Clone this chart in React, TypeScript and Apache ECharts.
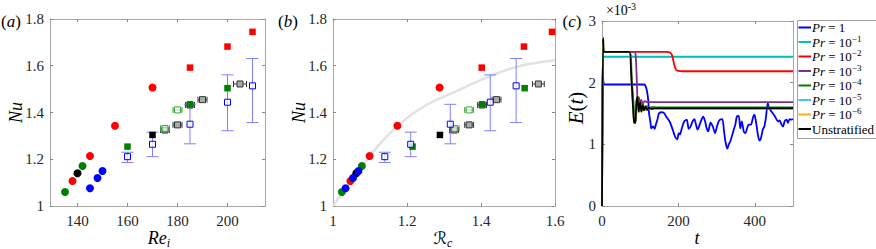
import React, { useEffect, useRef } from 'react';
import * as echarts from 'echarts';

const SERIF = '"Liberation Serif", "DejaVu Serif", serif';

// ---------- Panels (a) and (b): Nu against Re_i and against R_c ----------
// filled circles
const reCircRed = [138, 145, 155, 170];
const rcCircRed = [1.047, 1.099, 1.174, 1.288];
const nuCircRed = [1.107, 1.214, 1.343, 1.507];

const reCircGreen = [135, 142];
const rcCircGreen = [1.024, 1.078];
const nuCircGreen = [1.06, 1.171];

const reCircBlack = [140];
const rcCircBlack = [1.063];
const nuCircBlack = [1.14];

const reCircBlue = [145, 148, 150];
const rcCircBlue = [1.034, 1.054, 1.069];
const nuCircBlue = [1.076, 1.12, 1.15];

// filled squares
const reSqRed = [185, 200, 210];
const rcSqRed = [1.402, 1.516, 1.592];
const nuSqRed = [1.592, 1.682, 1.745];

const reSqGreen = [160, 185, 200];
const rcSqGreen = [1.215, 1.403, 1.518];
const nuSqGreen = [1.254, 1.435, 1.504];

const reSqBlack = [170];
const rcSqBlack = [1.289];
const nuSqBlack = [1.304];

// open blue squares with vertical error bars
const reOpenBlue = [160, 170, 185, 200, 210];
const rcOpenBlue = [1.14, 1.21, 1.317, 1.425, 1.495];
const nuOpenBlue = [1.211, 1.264, 1.35, 1.444, 1.514];
const nuOpenBlueLo = [1.186, 1.211, 1.266, 1.322, 1.357];
const nuOpenBlueHi = [1.23, 1.316, 1.435, 1.561, 1.631];

// open grey squares with horizontal error bars
const reOpenGray = [175, 180, 185, 190, 205];
const rcOpenGray = [1.327, 1.368, 1.403, 1.442, 1.555];
const nuOpenGray = [1.325, 1.347, 1.432, 1.455, 1.522];
const reErrGray = [1.8, 1.8, 1.8, 1.8, 2.6];
const rcErrGray = [0.012, 0.012, 0.012, 0.012, 0.016];

// open green squares with horizontal error bars
const reOpenGreen = [175, 180];
const rcOpenGreen = [1.329, 1.368];
const nuOpenGreen = [1.332, 1.411];
const reErrGreen = [1.8, 1.8];
const rcErrGreen = [0.012, 0.012];

// grey reference curve of panel (b)
const rcCurve = [1, 1.05, 1.1, 1.15, 1.2, 1.25, 1.3, 1.35, 1.4, 1.45, 1.5, 1.55, 1.6];
const nuCurve = [1, 1.11, 1.214, 1.305, 1.376, 1.43, 1.468, 1.503, 1.54, 1.571, 1.597, 1.613, 1.624];

// tick values
const reTicks = [140, 160, 180, 200];
const rcTicks = [1, 1.2, 1.4, 1.6];
const nuTicks = [1, 1.2, 1.4, 1.6, 1.8];
const tTicks = [0, 200, 400];
const eTicks = [0, 1, 2, 3];

// ---------- Panel (c): E(t), in units of 1e-3 ----------
const tPr1 = [0, 3, 6, 110, 116, 121, 123, 127, 129, 134, 138, 141, 145, 149, 155, 162, 168, 177, 185, 191, 197, 201, 204, 209, 215, 222, 227, 232, 237, 242, 246, 250, 254, 261, 265, 270, 274, 278, 284, 290, 296, 299, 304, 309, 315, 319, 323, 328, 332, 336, 340, 345, 349, 353, 358, 362, 366, 371, 375, 379, 384, 390, 395, 399, 403, 408, 412, 416, 421, 425, 429, 434, 437, 444, 452, 461, 465, 470, 474, 478, 483, 487, 491, 496, 500];
const ePr1 = [0, 2.1, 1.97, 1.97, 1.91, 1.72, 1.51, 1.35, 1.26, 1.29, 1.25, 1.32, 1.40, 1.50, 1.52, 1.51, 1.45, 1.37, 1.24, 1.13, 1.08, 1.18, 1.16, 1.26, 1.37, 1.40, 1.25, 1.29, 1.37, 1.41, 1.32, 1.24, 1.29, 1.41, 1.45, 1.37, 1.26, 1.21, 1.35, 1.29, 1.18, 1.24, 1.35, 1.40, 1.41, 1.24, 1.05, 0.93, 1.0, 1.05, 1.13, 1.24, 1.32, 1.45, 1.46, 1.26, 1.37, 1.21, 1.18, 1.24, 1.32, 1.32, 1.43, 1.48, 1.37, 1.16, 1.06, 1.10, 1.24, 1.29, 1.43, 1.67, 1.59, 1.53, 1.46, 1.37, 1.39, 1.32, 1.29, 1.37, 1.40, 1.35, 1.41, 1.40, 1.41];

const tPr1e1 = [0, 3, 500];
const ePr1e1 = [0, 2.42, 2.42];

const tPr1e2 = [0, 3, 170, 178, 183, 187, 190, 194, 200, 210, 500];
const ePr1e2 = [0, 2.5, 2.5, 2.49, 2.45, 2.35, 2.27, 2.21, 2.19, 2.185, 2.185];

const tPr1e3 = [0, 3, 85, 88, 91, 94, 97, 100, 103, 107, 112, 120, 500];
const ePr1e3 = [0, 2.5, 2.5, 2.45, 2.05, 1.62, 1.76, 1.63, 1.72, 1.66, 1.70, 1.685, 1.685];

const tPr1e4 = [0, 3, 5, 72, 78, 82, 85, 88, 91, 94, 97, 100, 104, 108, 112, 117, 122, 130, 140, 500];
const ePr1e4 = [0, 2.7, 2.5, 2.5, 2.02, 1.72, 1.40, 1.36, 1.67, 1.77, 1.53, 1.69, 1.54, 1.64, 1.56, 1.62, 1.58, 1.605, 1.6, 1.6];

const tUnstrat = [0, 3, 5, 72, 76, 80, 84, 87, 90, 93, 96, 100, 103, 107, 110, 114, 118, 123, 129, 138, 500];
const eUnstrat = [0, 2.72, 2.5, 2.5, 2.2, 1.75, 1.36, 1.345, 1.67, 1.775, 1.53, 1.69, 1.53, 1.64, 1.55, 1.615, 1.56, 1.6, 1.575, 1.585, 1.585];

const tPr1e5 = tUnstrat;
const ePr1e5 = eUnstrat;
const tPr1e6 = tUnstrat;
const ePr1e6 = eUnstrat;

const legendNames = ['1', '−1', '−2', '−3', '−4', '−5', '−6', 'Unstratified'];
const lineColors = ['#0000ff', '#00bfbf', '#ff0000', '#7e2f8e', '#008000', '#4dbeee', '#edb120', '#000000'];

const zip = (xs: number[], ys: number[]) => xs.map((x, i) => [x, ys[i]]);

const axisColor = '#a8a8a8';
const tickColor = '#888888';
const labelStyle = { fontFamily: SERIF, fontSize: 15, color: '#262626' };

function mkAxis(kind: 'x' | 'y', gridIndex: number, min: number, max: number, ticks: number[], position: string, showLabel: boolean) {
  return {
    type: 'value',
    gridIndex,
    min,
    max,
    position,
    axisLine: { show: true, onZero: false, lineStyle: { color: axisColor, width: 1 } },
    axisTick: { show: true, inside: true, length: 3, lineStyle: { color: tickColor }, customValues: ticks },
    axisLabel: { show: showLabel, customValues: ticks, margin: kind === 'x' ? 7 : 6, ...labelStyle },
    splitLine: { show: false },
  };
}

function scatter(xs: number[], ys: number[], xi: number, symbol: string, size: number, fill: string, border?: string) {
  return {
    type: 'scatter',
    xAxisIndex: xi,
    yAxisIndex: xi,
    data: zip(xs, ys),
    symbol,
    symbolSize: size,
    z: 3,
    silent: true,
    itemStyle: { color: fill, borderColor: border || fill, borderWidth: border ? 1 : 0, opacity: 1 },
  };
}

function vErr(xs: number[], lo: number[], hi: number[], xi: number, color: string) {
  return {
    type: 'custom',
    xAxisIndex: xi,
    yAxisIndex: xi,
    silent: true,
    z: 2,
    data: xs.map((x, i) => [x, lo[i], hi[i]]),
    encode: { x: 0, y: [1, 2] },
    renderItem: (_p: any, api: any) => {
      const x = api.value(0);
      const a = api.coord([x, api.value(1)]);
      const b = api.coord([x, api.value(2)]);
      const w = 6;
      const st = { stroke: color, lineWidth: 1, fill: 'none' };
      return {
        type: 'group',
        children: [
          { type: 'line', shape: { x1: a[0], y1: a[1], x2: b[0], y2: b[1] }, style: st },
          { type: 'line', shape: { x1: a[0] - w, y1: a[1], x2: a[0] + w, y2: a[1] }, style: st },
          { type: 'line', shape: { x1: b[0] - w, y1: b[1], x2: b[0] + w, y2: b[1] }, style: st },
        ],
      };
    },
  };
}

function hErr(xs: number[], ys: number[], dx: number[], xi: number, color: string) {
  return {
    type: 'custom',
    xAxisIndex: xi,
    yAxisIndex: xi,
    silent: true,
    z: 2,
    data: xs.map((x, i) => [x, ys[i], dx[i]]),
    encode: { x: 0, y: 1 },
    renderItem: (_p: any, api: any) => {
      const x = api.value(0);
      const y = api.value(1);
      const d = api.value(2);
      const a = api.coord([x - d, y]);
      const b = api.coord([x + d, y]);
      const h = 3;
      const st = { stroke: color, lineWidth: 1, fill: 'none' };
      return {
        type: 'group',
        children: [
          { type: 'line', shape: { x1: a[0], y1: a[1], x2: b[0], y2: b[1] }, style: st },
          { type: 'line', shape: { x1: a[0], y1: a[1] - h, x2: a[0], y2: a[1] + h }, style: st },
          { type: 'line', shape: { x1: b[0], y1: b[1] - h, x2: b[0], y2: b[1] + h }, style: st },
        ],
      };
    },
  };
}

function scatterPanel(xi: number, x: any) {
  const green = '#008000';
  const openGreen = '#3aa53a';
  return [
    scatter(x.circGreen, nuCircGreen, xi, 'circle', 8, green),
    scatter(x.circRed, nuCircRed, xi, 'circle', 8, '#ff0000'),
    scatter(x.circBlack, nuCircBlack, xi, 'circle', 8, '#000000'),
    scatter(x.circBlue, nuCircBlue, xi, 'circle', 8, '#0000ff'),
    hErr(x.openGray, nuOpenGray, x.errGray, xi, '#333333'),
    scatter(x.openGray, nuOpenGray, xi, 'rect', 6, '#ababab', '#333333'),
    hErr(x.openGreen, nuOpenGreen, x.errGreen, xi, openGreen),
    scatter(x.openGreen, nuOpenGreen, xi, 'rect', 6, 'rgba(255,255,255,0.6)', openGreen),
    scatter(x.sqRed, nuSqRed, xi, 'rect', 6.5, '#ff0000'),
    scatter(x.sqGreen, nuSqGreen, xi, 'rect', 6.5, green),
    scatter(x.sqBlack, nuSqBlack, xi, 'rect', 6.5, '#000000'),
    vErr(x.openBlue, nuOpenBlueLo, nuOpenBlueHi, xi, '#8080ff'),
    scatter(x.openBlue, nuOpenBlue, xi, 'rect', 6, 'rgba(255,255,255,0.75)', '#0000ff'),
  ];
}

const rich = {
  n: { fontFamily: SERIF, fontSize: 13, color: '#000', lineHeight: 16, verticalAlign: 'middle' },
  i: { fontFamily: SERIF, fontSize: 13, fontStyle: 'italic', color: '#000', lineHeight: 16, verticalAlign: 'middle' },
  s: { fontFamily: SERIF, fontSize: 9, color: '#000', lineHeight: 16, verticalAlign: 'top' },
};

function legendGraphic() {
  const els: any[] = [
    { type: 'rect', shape: { x: 797.5, y: 20.5, width: 90, height: 118 }, style: { fill: '#ffffff', stroke: '#a0a0a0', lineWidth: 1 }, z: 10 },
  ];
  legendNames.forEach((nm, k) => {
    const y = 27.5 + k * 14.5;
    els.push({ type: 'line', shape: { x1: 798.5, y1: y, x2: 811, y2: y }, style: { stroke: lineColors[k], lineWidth: 2 }, z: 11 });
    let text: string;
    if (nm === 'Unstratified') text = '{n|Unstratified}';
    else if (nm === '1') text = '{i|Pr}{n| = 1}';
    else text = `{i|Pr}{n| = 10}{s|${nm}}`;
    els.push({ type: 'text', x: 812, y, z: 11, style: { text, rich, verticalAlign: 'middle', align: 'left' } });
  });
  return els;
}

const big = { fontFamily: SERIF, fontSize: 18, color: '#262626' };
const titleRich = {
  i: { ...big, fontStyle: 'italic', lineHeight: 22, verticalAlign: 'middle' },
  n: { ...big, lineHeight: 22, verticalAlign: 'middle' },
  bi: { ...big, fontSize: 21, fontStyle: 'italic', lineHeight: 24, verticalAlign: 'middle' },
  bn: { ...big, fontSize: 21, lineHeight: 24, verticalAlign: 'middle' },
  cal: { fontFamily: '"DejaVu Sans", sans-serif', fontSize: 17, color: '#262626', lineHeight: 22, verticalAlign: 'middle' },
  sub: { fontFamily: SERIF, fontSize: 12, fontStyle: 'italic', color: '#262626', lineHeight: 22, verticalAlign: 'bottom' },
  lab: { fontFamily: SERIF, fontSize: 17, color: '#262626', lineHeight: 22, verticalAlign: 'middle' },
  labi: { fontFamily: SERIF, fontSize: 17, fontStyle: 'italic', color: '#262626', lineHeight: 22, verticalAlign: 'middle' },
  m: { fontFamily: SERIF, fontSize: 14, color: '#262626', lineHeight: 18, verticalAlign: 'middle' },
  sup: { fontFamily: SERIF, fontSize: 10, color: '#262626', lineHeight: 18, verticalAlign: 'top' },
};

function txt(x: number, y: number, text: string, rotation = 0) {
  return { type: 'text', x, y, rotation, style: { text, rich: titleRich, align: 'center', verticalAlign: 'middle' } };
}

export default function App() {
  const ref = useRef<HTMLDivElement>(null);
  useEffect(() => {
    if (!ref.current) return;
    const chart = echarts.init(ref.current, undefined, { renderer: 'svg' });
    const seriesC = [
      [tPr1, ePr1], [tPr1e1, ePr1e1], [tPr1e2, ePr1e2], [tPr1e3, ePr1e3],
      [tPr1e4, ePr1e4], [tPr1e5, ePr1e5], [tPr1e6, ePr1e6], [tUnstrat, eUnstrat],
    ].map(([t, e], k) => ({
      type: 'line',
      xAxisIndex: 4,
      yAxisIndex: 4,
      data: zip(t as number[], e as number[]),
      showSymbol: false,
      smooth: k === 0 ? 0.25 : 0.3,
      silent: true,
      lineStyle: { color: lineColors[k], width: 1.8 },
      z: 2 + k * 0.01,
    }));

    const option: any = {
      animation: false,
      backgroundColor: '#ffffff',
      textStyle: { fontFamily: SERIF },
      grid: [
        { left: 50, top: 19, width: 215, height: 187, show: false },
        { left: 333, top: 19, width: 222, height: 187, show: false },
        { left: 602, top: 21, width: 191, height: 185, show: false },
      ],
      xAxis: [
        mkAxis('x', 0, 129, 215, reTicks, 'bottom', true),
        mkAxis('x', 0, 129, 215, reTicks, 'top', false),
        mkAxis('x', 1, 1, 1.6, rcTicks, 'bottom', true),
        mkAxis('x', 1, 1, 1.6, rcTicks, 'top', false),
        mkAxis('x', 2, 0, 500, tTicks, 'bottom', true),
        mkAxis('x', 2, 0, 500, tTicks, 'top', false),
      ],
      yAxis: [
        mkAxis('y', 0, 1, 1.8, nuTicks, 'left', true),
        mkAxis('y', 0, 1, 1.8, nuTicks, 'right', false),
        mkAxis('y', 1, 1, 1.8, nuTicks, 'left', true),
        mkAxis('y', 1, 1, 1.8, nuTicks, 'right', false),
        mkAxis('y', 2, 0, 3, eTicks, 'left', true),
        mkAxis('y', 2, 0, 3, eTicks, 'right', false),
      ],
      series: [
        ...scatterPanel(0, {
          circRed: reCircRed, circGreen: reCircGreen, circBlack: reCircBlack, circBlue: reCircBlue,
          sqRed: reSqRed, sqGreen: reSqGreen, sqBlack: reSqBlack,
          openBlue: reOpenBlue, openGray: reOpenGray, errGray: reErrGray,
          openGreen: reOpenGreen, errGreen: reErrGreen,
        }),
        {
          type: 'line', xAxisIndex: 2, yAxisIndex: 2, data: zip(rcCurve, nuCurve), smooth: true,
          showSymbol: false, silent: true, z: 1, lineStyle: { color: '#e2e2e2', width: 2.5 },
        },
        ...scatterPanel(2, {
          circRed: rcCircRed, circGreen: rcCircGreen, circBlack: rcCircBlack, circBlue: rcCircBlue,
          sqRed: rcSqRed, sqGreen: rcSqGreen, sqBlack: rcSqBlack,
          openBlue: rcOpenBlue, openGray: rcOpenGray, errGray: rcErrGray,
          openGreen: rcOpenGreen, errGreen: rcErrGreen,
        }),
        ...seriesC,
      ],
      graphic: [
        txt(11, 21, '{lab|(}{labi|a}{lab|)}'),
        txt(288, 21, '{lab|(}{labi|b}{lab|)}'),
        txt(572, 21, '{lab|(}{labi|c}{lab|)}'),
        txt(159, 238, '{i|Re}{sub|i}'),
        txt(443, 238, '{cal|ℛ}{sub|c}'),
        txt(697, 238, '{i|t}'),
        txt(15.5, 112.5, '{i|Nu}', Math.PI / 2),
        txt(298.5, 112.5, '{i|Nu}', Math.PI / 2),
        txt(576, 108, '{bi|E}{bn|(}{bi|t}{bn|)}', Math.PI / 2),
        txt(621, 10, '{m|×10}{sup|-3}'),
        ...legendGraphic(),
      ],
    };
    chart.setOption(option);
    return () => chart.dispose();
  }, []);
  return (
    <div
      ref={ref}
      style={{ position: 'absolute', left: 0, top: 0, width: 876, height: 249, background: '#fff' }}
    />
  );
}
